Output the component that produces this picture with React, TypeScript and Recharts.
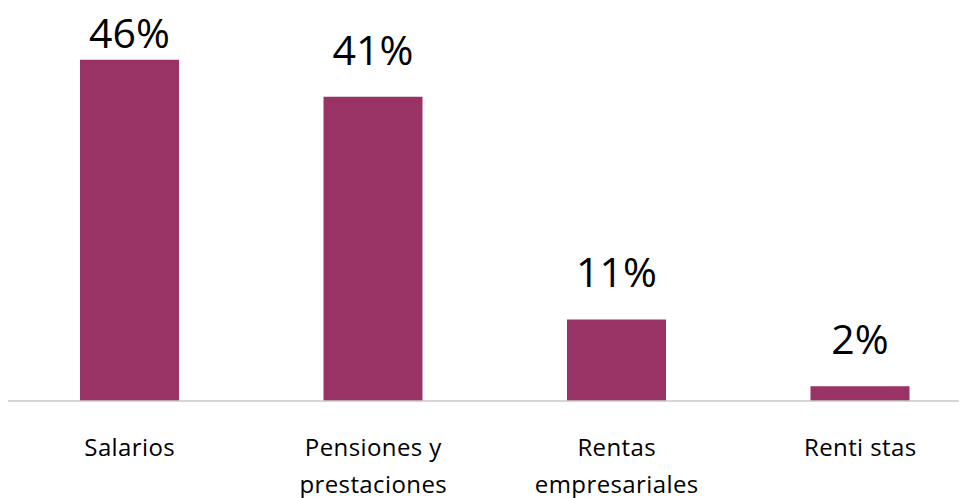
import { Bar, BarChart, LabelList, XAxis, YAxis } from "recharts";

const categories = ["Salarios", "Pensiones y\nprestaciones", "Rentas\nempresariales", "Renti stas"];
const shares = [46, 41, 11, 2];

const data = categories.map((name, i) => ({ name, share: shares[i] }));

const FONT = "'Open Sans', sans-serif";

function CategoryTick(props: any) {
  const { x, y, payload } = props;
  const lines = String(payload.value).split("\n");
  return (
    <g transform={`translate(${x},${y})`}>
      <text textAnchor="middle" fontFamily={FONT} fontSize={24} fill="#000" letterSpacing={0.4}>
        {lines.map((line, i) => (
          <tspan key={i} x={0} dy={i === 0 ? 55 : 37}>
            {line}
          </tspan>
        ))}
      </text>
    </g>
  );
}

function ValueLabel(props: any) {
  const { x, y, width, value } = props;
  // keep the label inside the top of the chart, as the original does
  const baseline = Math.max(Number(y) - 32, 40);
  return (
    <text
      x={Number(x) + Number(width) / 2}
      y={baseline}
      textAnchor="middle"
      fontFamily={FONT}
      fontSize={41}
      fill="#000"
    >
      {`${value}%`}
    </text>
  );
}

export default function App() {
  return (
    <div style={{ width: 959, height: 490, overflow: "hidden" }}>
      <BarChart
        width={974}
        height={490}
        data={data}
        margin={{ top: 22, right: 0, left: 0, bottom: 0 }}
      >
        <XAxis
          dataKey="name"
          height={97}
          interval={0}
          tickLine={false}
          tickSize={0}
          tickMargin={0}
          axisLine={{ stroke: "#c8c8c8", strokeWidth: 1.5 }}
          tick={<CategoryTick />}
        />
        <YAxis hide domain={[0, 50]} />
        <Bar dataKey="share" fill="#993366" barSize={99} isAnimationActive={false}>
          <LabelList dataKey="share" content={<ValueLabel />} />
        </Bar>
      </BarChart>
    </div>
  );
}
